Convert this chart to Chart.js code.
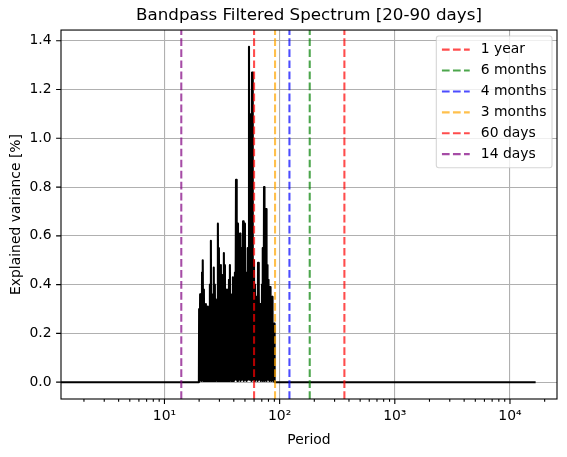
<!DOCTYPE html>
<html lang="en">
<head>
<meta charset="UTF-8">
<title>Bandpass Filtered Spectrum</title>
<script src="https://cdn.jsdelivr.net/npm/chart.js"></script>
<style>
  body { margin: 0; background: #fff; }
  #wrap { width: 567px; height: 457px; }
</style>
</head>
<body>
<div id="wrap"><canvas id="spectrumChart"></canvas></div>
<script>
// period (days) and explained variance (%)
const periods = [
  1.0, 19.9,
  20.0, 20.2, 20.4, 20.6, 20.8, 21.0, 21.2, 21.4, 21.6, 21.8,
  22.0, 22.2, 22.4, 22.6, 22.9, 23.1, 23.3, 23.6, 23.8, 24.0,
  24.3, 24.5, 24.8, 25.0, 25.3, 25.5, 25.8, 26.0, 26.3, 26.6,
  26.8, 27.1, 27.4, 27.6, 27.9, 28.2, 28.5, 28.8, 29.1, 29.4,
  29.7, 30.0, 30.3, 30.6, 30.9, 31.2, 31.5, 31.8, 32.2, 32.5,
  32.8, 33.2, 33.5, 33.8, 34.2, 34.5, 34.9, 35.2, 35.6, 35.9,
  36.3, 36.7, 37.0, 37.4, 37.8, 38.2, 38.5, 38.9, 39.3, 39.7,
  40.1, 40.5, 40.9, 41.3, 41.8, 42.2, 42.6, 43.0, 43.5, 43.9,
  44.4, 44.8, 45.3, 45.7, 46.2, 46.6, 47.1, 47.6, 48.1, 48.5,
  49.0, 49.5, 50.0, 50.5, 51.0, 51.6, 52.1, 52.6, 53.1, 53.7,
  54.2, 54.8, 55.3, 55.9, 56.4, 57.0, 57.6, 58.2, 58.7, 59.3,
  59.9, 60.5, 61.1, 61.8, 62.4, 63.0, 63.6, 64.3, 64.9, 65.6,
  66.2, 66.9, 67.6, 68.2, 68.9, 69.6, 70.3, 71.0, 71.7, 72.5,
  73.2, 73.9, 74.7, 75.4, 76.2, 77.0, 77.7, 78.5, 79.3, 80.1,
  80.9, 81.7, 82.6, 83.4, 84.2, 85.1, 86.0, 86.8, 87.7, 88.6,
  89.5, 90.4,
  90.6, 16700
];
const variance = [
  0, 0,
  0.30, 0.005, 0.36, 0.01, 0.34, 0.005, 0.45, 0.01, 0.50, 0.005,
  0.38, 0.01, 0.30, 0.005, 0.32, 0.01, 0.28, 0.005, 0.31, 0.01,
  0.26, 0.005, 0.40, 0.01, 0.58, 0.005, 0.36, 0.02, 0.30, 0.005,
  0.47, 0.01, 0.40, 0.005, 0.34, 0.01, 0.30, 0.005, 0.65, 0.01,
  0.55, 0.005, 0.40, 0.01, 0.48, 0.005, 0.35, 0.01, 0.44, 0.005,
  0.53, 0.02, 0.48, 0.005, 0.30, 0.01, 0.38, 0.005, 0.33, 0.01,
  0.42, 0.005, 0.48, 0.01, 0.36, 0.005, 0.25, 0.01, 0.43, 0.005,
  0.33, 0.01, 0.45, 0.07, 0.83, 0.01, 0.60, 0.005, 0.65, 0.01,
  0.50, 0.03, 0.61, 0.005, 0.42, 0.01, 0.55, 0.04, 0.66, 0.005,
  0.50, 0.01, 0.65, 0.03, 0.45, 0.005, 0.38, 0.01, 0.55, 0.03,
  1.375, 0.01, 1.10, 0.02, 0.95, 0.005, 1.27, 0.01, 0.45, 0.03,
  0.50, 0.005, 0.40, 0.01, 0.35, 0.02, 0.30, 0.005, 0.49, 0.01,
  0.38, 0.04, 0.32, 0.005, 0.28, 0.01, 0.40, 0.005, 0.55, 0.03,
  0.80, 0.005, 0.60, 0.01, 0.71, 0.005, 0.48, 0.04, 0.42, 0.01,
  0.30, 0.005, 0.39, 0.01, 0.28, 0.005, 0.35, 0.01, 0.24, 0.005,
  0.24, 0.005,
  0, 0
];

const markerLabels = ['1 year', '6 months', '4 months', '3 months', '60 days', '14 days'];
const markerPeriods = [365, 182.5, 121.67, 91.25, 60, 14];
const markerColors = [
  'rgba(255,0,0,0.7)', 'rgba(0,128,0,0.7)', 'rgba(0,0,255,0.7)',
  'rgba(255,165,0,0.7)', 'rgba(255,0,0,0.7)', 'rgba(128,0,128,0.7)'
];

const xLimits = [1.264, 25600];
const yLimits = [-0.069, 1.444];
const xMajorLabels = { 10: '10¹', 100: '10²', 1000: '10³', 10000: '10⁴' };

const FONT = 'DejaVu Sans';
const LW = 2.08;            // 1.5pt at 100 dpi
const DASH = [7.7, 3.33];
Chart.defaults.color = '#000';
Chart.defaults.font.family = FONT;

// tick marks and full axes frame, like matplotlib spines
const frameAndTicks = {
  id: 'frameAndTicks',
  afterDatasetsDraw(chart) {
    const { ctx, chartArea: a, scales: { x, y } } = chart;
    ctx.save();
    ctx.strokeStyle = '#000';
    ctx.lineWidth = 1.1;
    ctx.beginPath();
    x.ticks.forEach(t => {
      const px = x.getPixelForValue(t.value);
      ctx.moveTo(px, a.bottom);
      ctx.lineTo(px, a.bottom + (t.major ? 4.9 : 2.8));
    });
    y.ticks.forEach(t => {
      const py = y.getPixelForValue(t.value);
      ctx.moveTo(a.left - 4.9, py);
      ctx.lineTo(a.left, py);
    });
    ctx.stroke();
    ctx.strokeRect(a.left, a.top, a.right - a.left, a.bottom - a.top);
    ctx.restore();
  }
};

// legend box inside the axes, upper right
const insideLegend = {
  id: 'insideLegend',
  afterDraw(chart) {
    const { ctx, chartArea: a } = chart;
    const fs = 13.9;
    ctx.save();
    ctx.font = fs + 'px "' + FONT + '"';
    const textW = Math.max(...markerLabels.map(l => ctx.measureText(l).width));
    const pad = 5.6, handle = 27.8, gap = 11.1, rowH = 20.9;
    const w = pad + handle + gap + textW + pad;
    const h = pad * 2 + rowH * (markerLabels.length - 1) + 16;
    const right = a.right - 5, top = a.top + 6;
    const left = right - w;
    ctx.beginPath();
    ctx.roundRect(left, top, w, h, 2.5);
    ctx.fillStyle = 'rgba(255,255,255,0.8)';
    ctx.fill();
    ctx.strokeStyle = 'rgba(204,204,204,0.8)';
    ctx.lineWidth = 1.1;
    ctx.stroke();
    markerLabels.forEach((label, i) => {
      const cy = top + pad + 8 + i * rowH;
      ctx.beginPath();
      ctx.setLineDash(DASH);
      ctx.strokeStyle = markerColors[i];
      ctx.lineWidth = LW;
      ctx.moveTo(left + pad, cy);
      ctx.lineTo(left + pad + handle, cy);
      ctx.stroke();
      ctx.setLineDash([]);
      ctx.fillStyle = '#000';
      ctx.textBaseline = 'middle';
      ctx.fillText(label, left + pad + handle + gap, cy);
    });
    ctx.restore();
  }
};

const datasets = markerLabels.map((label, i) => ({
  label,
  data: [{ x: markerPeriods[i], y: yLimits[0] }, { x: markerPeriods[i], y: yLimits[1] }],
  borderColor: markerColors[i],
  borderWidth: LW,
  borderDash: DASH,
  pointRadius: 0,
  order: 0
}));
datasets.push({
  label: 'spectrum',
  data: periods.map((p, i) => ({ x: p, y: variance[i] })),
  borderColor: '#000',
  borderWidth: LW,
  borderJoinStyle: 'round',
  pointRadius: 0,
  tension: 0,
  order: 1
});

new Chart(document.getElementById('spectrumChart'), {
  type: 'line',
  data: { datasets },
  options: {
    responsive: true,
    maintainAspectRatio: false,
    animation: false,
    events: [],
    layout: { padding: { left: 0, right: 10, top: 0, bottom: 0 } },
    plugins: {
      legend: { display: false },
      tooltip: { enabled: false },
      title: {
        display: true,
        text: 'Bandpass Filtered Spectrum [20-90 days]',
        fullSize: false,
        font: { size: 16.7, weight: 'normal' },
        padding: { top: 6, bottom: 4 }
      }
    },
    scales: {
      x: {
        type: 'logarithmic',
        min: xLimits[0],
        max: xLimits[1],
        afterFit: s => { s.height = 58; },
        afterBuildTicks: s => {
          const ticks = [];
          for (let dec = 1; dec <= 10000; dec *= 10) {
            for (let m = 1; m <= 9; m++) {
              const v = m * dec;
              if (v >= xLimits[0] && v <= xLimits[1]) ticks.push({ value: v, major: m === 1 });
            }
          }
          s.ticks = ticks;
        },
        ticks: {
          autoSkip: false,
          maxRotation: 0,
          padding: 9,
          font: { size: 13.9 },
          callback: (v) => xMajorLabels[v] || ''
        },
        grid: {
          color: c => (c.tick && c.tick.major) ? '#b0b0b0' : 'rgba(0,0,0,0)',
          lineWidth: 1.1,
          drawTicks: false
        },
        border: { display: false },
        title: { display: true, text: 'Period', font: { size: 13.9 }, padding: { top: 0, bottom: 8.7 } }
      },
      y: {
        type: 'linear',
        min: yLimits[0],
        max: yLimits[1],
        afterFit: s => { s.width = 61; },
        ticks: {
          stepSize: 0.2,
          includeBounds: false,
          padding: 9.5,
          font: { size: 13.9 },
          callback: v => v.toFixed(1)
        },
        grid: { color: '#b0b0b0', lineWidth: 1.1, drawTicks: false },
        border: { display: false },
        title: { display: true, text: 'Explained variance [%]', font: { size: 13.9 }, padding: { top: 7.7, bottom: 0 } }
      }
    }
  },
  plugins: [frameAndTicks, insideLegend]
});
</script>
</body>
</html>
